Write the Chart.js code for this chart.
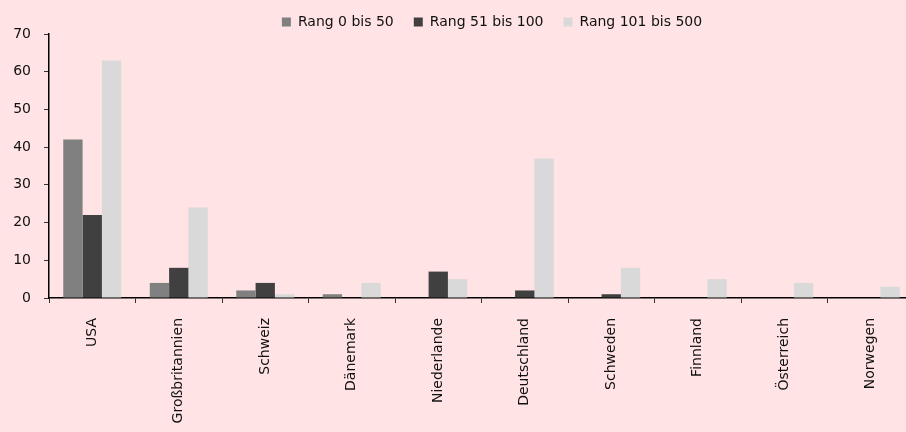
<!DOCTYPE html>
<html>
<head>
<meta charset="utf-8">
<script src="https://cdn.jsdelivr.net/npm/chart.js@4"></script>
<style>
  html, body { margin: 0; padding: 0; background: #ffe3e5; overflow: hidden; }
  #wrap { width: 914px; height: 432px; }
</style>
</head>
<body>
<div id="wrap"><canvas id="c" width="914" height="432"></canvas></div>
<script>
const countries = ["USA", "Großbritannien", "Schweiz", "Dänemark", "Niederlande",
                   "Deutschland", "Schweden", "Finnland", "Österreich", "Norwegen"];
const seriesNames = ["Rang 0 bis 50", "Rang 51 bis 100", "Rang 101 bis 500"];
const rank0to50   = [42, 4, 2, 1, 0, 0, 0, 0, 0, 0];
const rank51to100 = [22, 8, 4, 0, 7, 2, 1, 0, 0, 0];
const rank101to500 = [63, 24, 1, 4, 5, 37, 8, 5, 4, 3];
const yTicks = [0, 10, 20, 30, 40, 50, 60, 70];

const colors = ["#808080", "#404040", "#d9d9d9"];
const FONT = "'DejaVu Sans', sans-serif";

// Legend row: fixed band height, drawn a little right of centre and higher up.
const legendPlace = {
  id: "legendPlace",
  beforeLayout(chart) {
    const lg = chart.legend;
    if (!lg || lg._fixedFit) return;
    const fit = lg.fit;
    lg.fit = function () { fit.call(this); this.height = 31; };
    lg._fixedFit = true;
  },
  afterLayout(chart) {
    const lg = chart.legend;
    if (!lg) return;
    lg.left += 35; lg.right += 35;
    lg.top -= 8;
  }
};

new Chart(document.getElementById("c"), {
  type: "bar",
  data: {
    labels: countries,
    datasets: [rank0to50, rank51to100, rank101to500].map((d, i) => ({
      label: seriesNames[i],
      data: d,
      backgroundColor: colors[i],
      borderWidth: 0,
      categoryPercentage: 0.67,
      barPercentage: 1.0
    }))
  },
  plugins: [legendPlace],
  options: {
    responsive: false,
    animation: false,
    layout: { padding: { top: 3, left: 0, right: 0, bottom: 0 } },
    plugins: {
      tooltip: { enabled: false },
      legend: {
        position: "top",
        labels: {
          boxWidth: 9,
          boxHeight: 9,
          padding: 20,
          color: "#111",
          font: { family: FONT, size: 14 }
        }
      }
    },
    scales: {
      x: {
        grid: { display: true, drawOnChartArea: false, offset: true, color: "#333", tickLength: 5, tickWidth: 1 },
        border: { display: true, color: "#000", width: 1.5 },
        ticks: {
          minRotation: 90, maxRotation: 90, autoSkip: false,
          padding: 15, color: "#111",
          font: { family: FONT, size: 14 }
        },
        afterFit: s => { s.height = 134; }
      },
      y: {
        min: 0, max: 70,
        afterBuildTicks: s => { s.ticks = yTicks.map(v => ({ value: v })); },
        grid: { display: true, drawOnChartArea: false, color: "#333", tickLength: 5, tickWidth: 1 },
        border: { display: true, color: "#000", width: 1.5 },
        ticks: {
          padding: 13, color: "#111",
          font: { family: FONT, size: 14 }
        },
        afterFit: s => { s.width = 49; }
      }
    }
  }
});
</script>
</body>
</html>
